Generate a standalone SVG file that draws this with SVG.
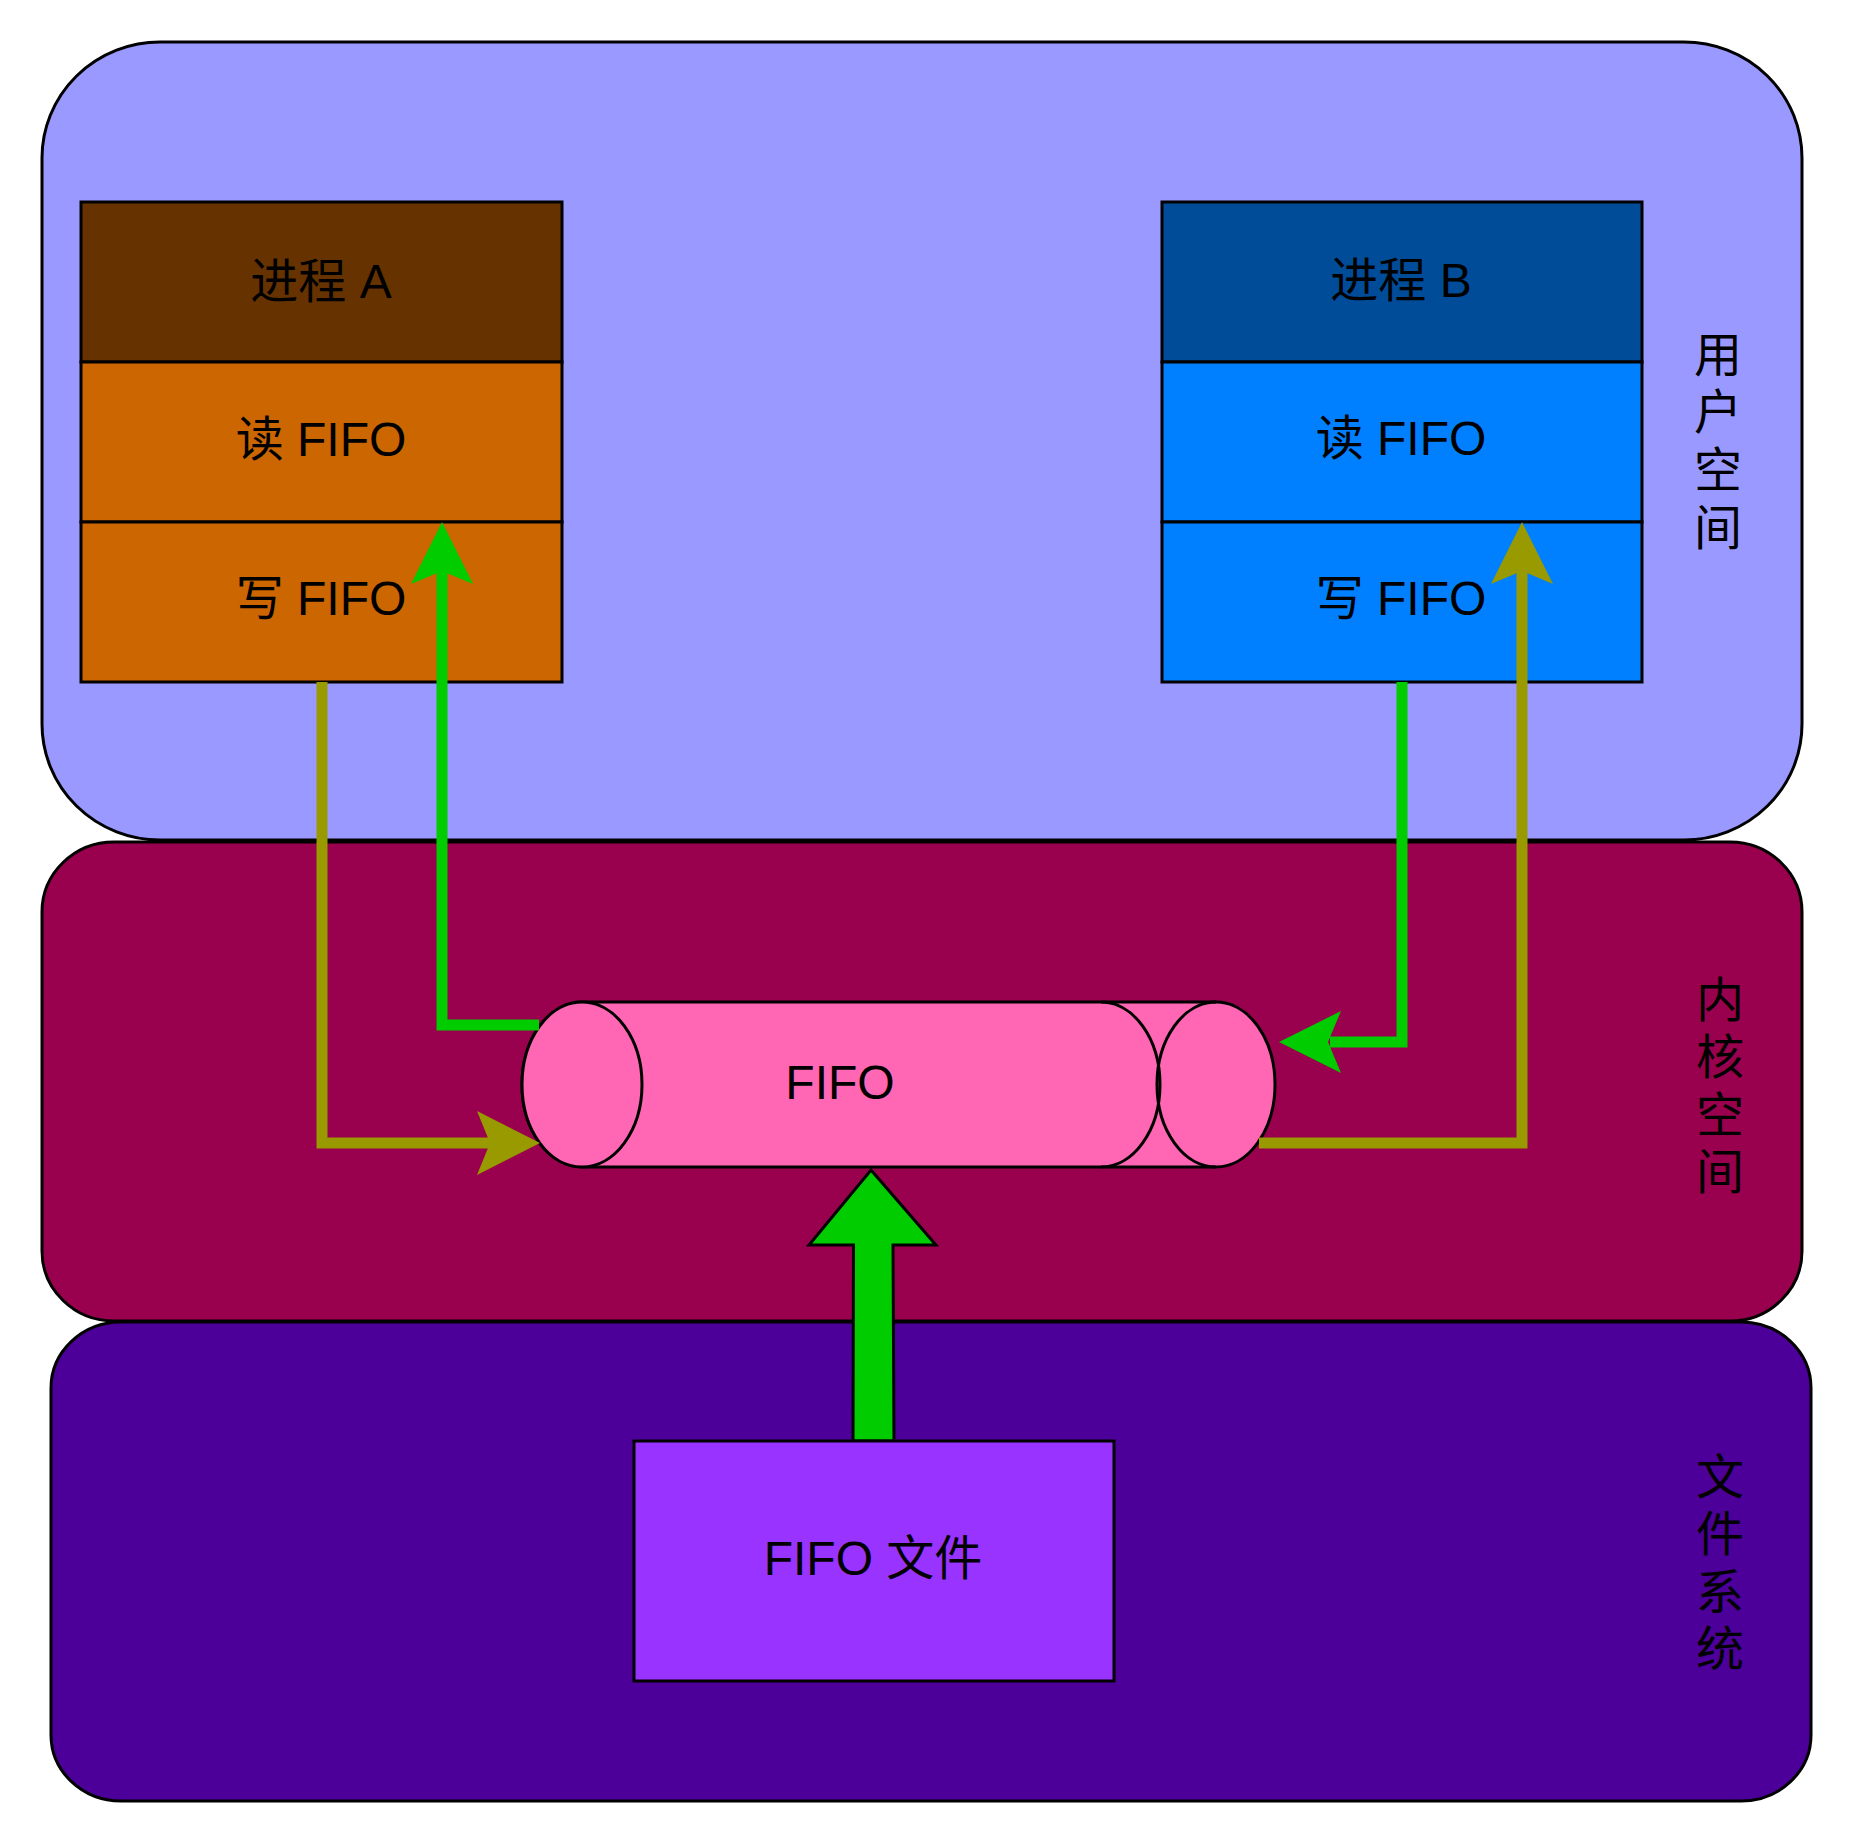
<svg xmlns="http://www.w3.org/2000/svg" width="1856" height="1844" viewBox="0 0 1856 1844">
<style>
.t{font-family:"Liberation Sans","Noto Sans CJK SC",sans-serif;font-size:48px;fill:#000;text-anchor:middle}
.b{stroke:#000;stroke-width:3}
.g{fill:none;stroke:#00CC00;stroke-width:11}
.o{fill:none;stroke:#999900;stroke-width:11}
</style>
<rect width="1856" height="1844" fill="#fff"/>
<g id="user-space">
<rect class="b" x="42" y="42" width="1760" height="798" rx="118" ry="116" fill="#9999FF"/>
<text class="t" x="1718"><tspan x="1718" y="372">用</tspan><tspan x="1718" y="429">户</tspan><tspan x="1718" y="487">空</tspan><tspan x="1718" y="545">间</tspan></text>
</g>
<g id="kernel-space">
<rect class="b" x="42" y="842" width="1760" height="479" rx="72" ry="70" fill="#99004D"/>
<text class="t"><tspan x="1720" y="1017">内</tspan><tspan x="1720" y="1074">核</tspan><tspan x="1720" y="1132">空</tspan><tspan x="1720" y="1189">间</tspan></text>
</g>
<g id="file-system">
<rect class="b" x="51" y="1322" width="1760" height="479" rx="70" ry="66" fill="#4C0099"/>
<text class="t"><tspan x="1720" y="1494">文</tspan><tspan x="1720" y="1551">件</tspan><tspan x="1720" y="1609">系</tspan><tspan x="1720" y="1666">统</tspan></text>
</g>
<g id="process-a">
<rect class="b" x="81" y="202" width="481" height="160" fill="#663300"/>
<rect class="b" x="81" y="362" width="481" height="160" fill="#CC6600"/>
<rect class="b" x="81" y="522" width="481" height="160" fill="#CC6600"/>
<text class="t" x="321" y="298">进程 A</text>
<text class="t" x="321" y="456">读 FIFO</text>
<text class="t" x="321" y="615">写 FIFO</text>
</g>
<g id="process-b">
<rect class="b" x="1162" y="202" width="480" height="160" fill="#004C99"/>
<rect class="b" x="1162" y="362" width="480" height="160" fill="#007FFF"/>
<rect class="b" x="1162" y="522" width="480" height="160" fill="#007FFF"/>
<text class="t" x="1401" y="297">进程 B</text>
<text class="t" x="1401" y="455">读 FIFO</text>
<text class="t" x="1401" y="615">写 FIFO</text>
</g>
<g id="fifo">
<path class="b" fill="#FF66B3" d="M582,1002 L1216,1002 A59,82.5 0 0 1 1216,1167 L582,1167 A60,82.5 0 0 1 582,1002 Z"/>
<path class="b" fill="none" d="M1101,1002 A59,82.5 0 0 1 1101,1167"/>
<path class="b" fill="none" d="M1216,1002 A59,82.5 0 0 0 1216,1167"/>
<ellipse class="b" cx="582" cy="1084.5" rx="60" ry="82.5" fill="#FF66B3"/>
<text class="t" x="840" y="1099">FIFO</text>
</g>
<g id="connectors">
<path class="o" d="M322,682 V1143 H500"/>
<polygon fill="#999900" points="540,1143 477,1111 490,1143 477,1175"/>
<path class="g" d="M539,1025 H442 V570"/>
<polygon fill="#00CC00" points="442,522 411,584 442,571 473,584"/>
<path class="g" d="M1402,682 V1042 H1330"/>
<polygon fill="#00CC00" points="1279,1042 1341,1011 1328,1042 1341,1073"/>
<path class="o" d="M1259,1143 H1522 V570"/>
<polygon fill="#999900" points="1522,522 1491,584 1522,571 1553,584"/>
<polygon class="b" fill="#00CC00" points="871,1170 936,1245 893,1245 894,1441 853,1441 853.5,1245 809,1245"/>
</g>
<g id="fifo-file">
<rect class="b" x="634" y="1441" width="480" height="240" fill="#9933FF"/>
<text class="t" x="873" y="1575">FIFO 文件</text>
</g>
</svg>
